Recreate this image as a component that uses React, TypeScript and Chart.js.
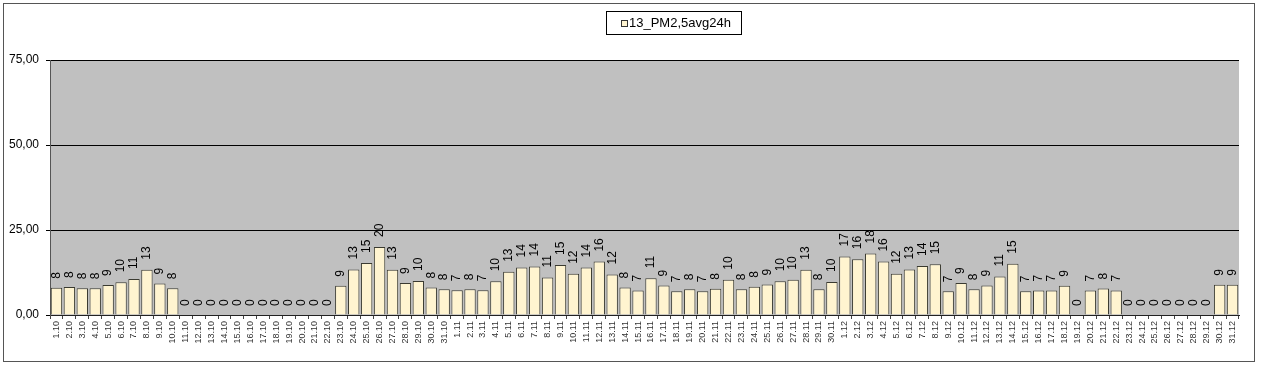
import React, { useEffect, useRef } from "react";
import { Chart, registerables } from "chart.js";

Chart.register(...registerables);

const octDays = Array.from({ length: 31 }, (_, i) => `${i + 1}.10`);
const novDays = Array.from({ length: 30 }, (_, i) => `${i + 1}.11`);
const decDays = Array.from({ length: 31 }, (_, i) => `${i + 1}.12`);
const categories: string[] = [...octDays, ...novDays, ...decDays];

const octValues = [
  8.0, 8.2, 7.9, 7.9, 8.8, 9.6, 10.6, 13.3, 9.3, 7.9,
  0, 0, 0, 0, 0, 0, 0, 0, 0, 0, 0, 0,
  8.6, 13.4, 15.3, 20.0, 13.3, 9.4, 10.0, 8.1, 7.6,
];
const novValues = [
  7.3, 7.6, 7.3, 9.9, 12.7, 14.0, 14.3, 11.0, 14.7, 12.1,
  14.0, 15.7, 11.9, 8.1, 7.2, 10.8, 8.7, 7.0, 7.6, 7.0,
  7.7, 10.4, 7.6, 8.3, 9.0, 9.9, 10.4, 13.3, 7.6, 9.7,
];
const decValues = [
  17.2, 16.4, 18.1, 15.7, 12.1, 13.4, 14.4, 14.9, 7.0, 9.4,
  7.6, 8.7, 11.3, 15.1, 7.0, 7.2, 7.2, 8.6, 0, 7.2,
  7.8, 7.2, 0, 0, 0, 0, 0, 0, 0, 8.9, 8.9,
];
const seriesValues: number[] = [...octValues, ...novValues, ...decValues];
const seriesName = "13_PM2,5avg24h";
const yTicks = [0, 25, 50, 75];

const FONT = "'Liberation Sans', Arial, sans-serif";

const bgPlugin = {
  id: "plotBg",
  beforeDraw(chart: any) {
    const { ctx, chartArea } = chart;
    ctx.save();
    ctx.fillStyle = "#ffffff";
    ctx.fillRect(0, 0, chart.width, chart.height);
    ctx.fillStyle = "#C0C0C0";
    ctx.fillRect(chartArea.left, chartArea.top, chartArea.right - chartArea.left, chartArea.bottom - chartArea.top);
    ctx.restore();
  },
};

const labelPlugin = {
  id: "barLabels",
  afterDatasetsDraw(chart: any) {
    const { ctx } = chart;
    const meta = chart.getDatasetMeta(0);
    const data = chart.data.datasets[0].data as number[];
    ctx.save();
    ctx.font = `12px ${FONT}`;
    ctx.fillStyle = "#000000";
    ctx.textAlign = "left";
    ctx.textBaseline = "middle";
    meta.data.forEach((bar: any, i: number) => {
      const txt = String(Math.round(data[i]));
      const gap = 9 + (txt.length - 1) * 1;
      ctx.save();
      ctx.translate(bar.x, bar.y - gap);
      ctx.rotate(-Math.PI / 2);
      ctx.fillText(txt, 0, 0);
      ctx.restore();
    });
    ctx.restore();
  },
  afterDraw(chart: any) {
    const { ctx } = chart;
    ctx.save();
    ctx.strokeStyle = "#555555";
    ctx.lineWidth = 1;
    ctx.strokeRect(3.5, 3.5, 1251, 358);
    ctx.fillStyle = "#ffffff";
    ctx.fillRect(606, 11, 136, 24);
    ctx.strokeStyle = "#000000";
    ctx.strokeRect(606.5, 11.5, 135, 23);
    ctx.fillStyle = "#FFF4D0";
    ctx.fillRect(621, 20, 6, 6);
    ctx.strokeStyle = "#333333";
    ctx.strokeRect(621.5, 20.5, 6, 6);
    ctx.fillStyle = "#000000";
    ctx.font = `13px ${FONT}`;
    ctx.textAlign = "left";
    ctx.textBaseline = "middle";
    ctx.fillText(seriesName, 629, 23.5);
    ctx.restore();
  },
};

export default function App() {
  const ref = useRef<HTMLCanvasElement | null>(null);
  useEffect(() => {
    if (!ref.current) return;
    const chart = new Chart(ref.current, {
      type: "bar",
      data: {
        labels: categories,
        datasets: [
          {
            label: seriesName,
            data: seriesValues,
            backgroundColor: "#FFF4D0",
            borderColor: "#3a3a30",
            borderWidth: 1,
            barPercentage: 0.88,
            categoryPercentage: 1.0,
          },
        ],
      },
      options: {
        animation: false,
        responsive: true,
        maintainAspectRatio: false,
        devicePixelRatio: 1,
        layout: { padding: { top: 60, right: 22, left: 0, bottom: 0 } },
        plugins: { legend: { display: false }, tooltip: { enabled: false }, title: { display: false } },
        scales: {
          x: {
            afterFit(scale: any) {
              scale.height = 50;
            },
            grid: { drawOnChartArea: false, drawTicks: true, tickLength: 4, color: "#444444", offset: true },
            border: { color: "#222222" },
            ticks: {
              autoSkip: false,
              minRotation: 90,
              maxRotation: 90,
              padding: 2,
              color: "#333333",
              font: { size: 9, family: FONT },
            },
          },
          y: {
            min: 0,
            max: 75,
            afterFit(scale: any) {
              scale.width = 50;
            },
            afterBuildTicks(scale: any) {
              scale.ticks = yTicks.map((v) => ({ value: v }));
            },
            grid: { color: "#000000", tickLength: 4, drawTicks: true },
            border: { color: "#555555" },
            ticks: {
              padding: 7,
              color: "#000000",
              font: { size: 12, family: FONT },
              callback: (v: any) => Number(v).toFixed(2).replace(".", ","),
            },
          },
        },
      },
      plugins: [bgPlugin, labelPlugin],
    });
    return () => chart.destroy();
  }, []);
  return (
    <div style={{ position: "fixed", left: 0, top: 0, width: 1261, height: 365, background: "#fff" }}>
      <canvas ref={ref} />
    </div>
  );
}
